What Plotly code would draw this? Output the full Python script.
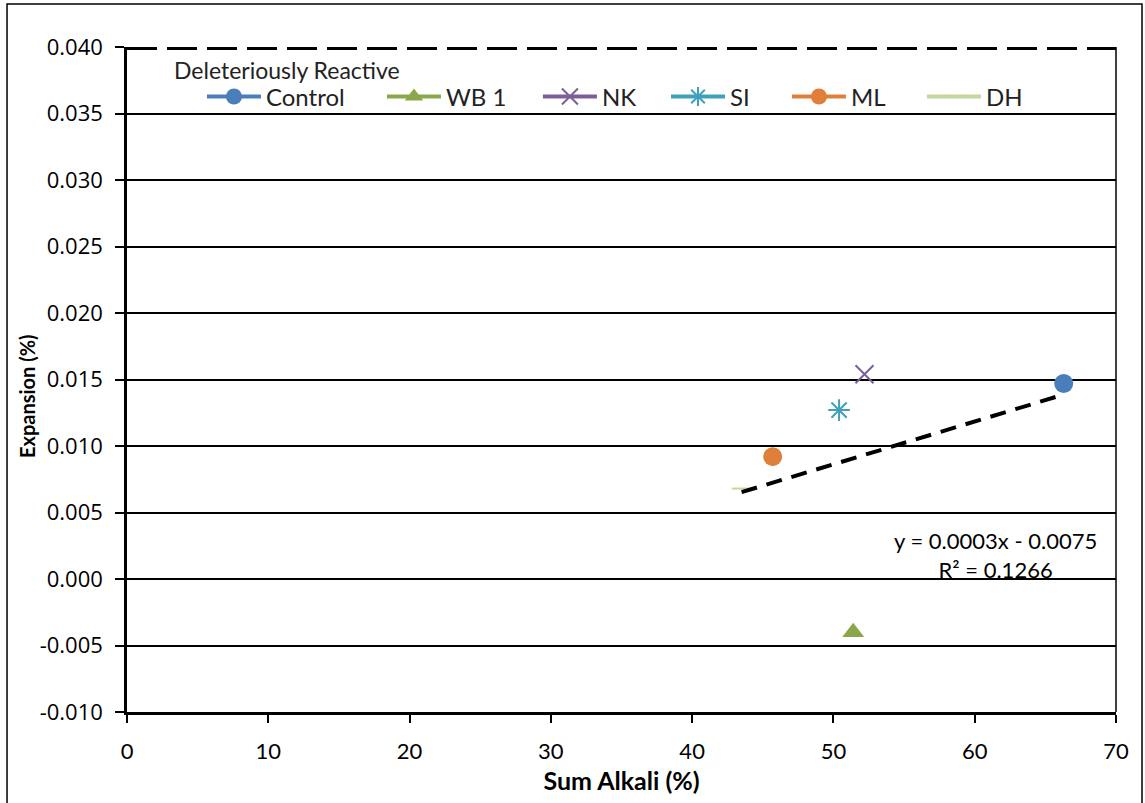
import numpy as np
import plotly.graph_objects as go

# ---- data ----
series_names = ["Control", "WB 1", "NK", "SI", "ML", "DH"]
sum_alkali = [66.3, 51.4, 52.2, 50.4, 45.7, 43.5]
expansion = [0.0147, -0.0040, 0.0154, 0.0127, 0.0092, 0.0068]
threshold_y = 0.040
threshold_label = "Deleteriously Reactive"
eq_label = "y = 0.0003x - 0.0075<br>R² = 0.1266"
x_title = "Sum Alkali (%)"
y_title = "Expansion (%)"
x_ticks = [0, 10, 20, 30, 40, 50, 60, 70]
y_ticks = [-0.010, -0.005, 0.000, 0.005, 0.010, 0.015, 0.020, 0.025, 0.030, 0.035, 0.040]
y_tick_labels = ["-0.010", "-0.005", "0.000", "0.005", "0.010", "0.015",
                 "0.020", "0.025", "0.030", "0.035", "0.040"]

colors = ["#4A7EBB", "#8AA84B", "#7A5F9A", "#3FA0BC", "#E07F3A", "#C3D69B"]
symbols = ["circle", "triangle-up", "x-thin-open", "asterisk-open", "circle", "line-ew-open"]
sizes = [19, 19, 18, 18, 19, 14]
# legend entry left positions (as fraction of plot width)
legend_x = [0.0758, 0.2578, 0.4155, 0.5450, 0.6673, 0.8038]

FONT = "Lato, Open Sans, sans-serif"

fig = go.Figure()

# threshold dashed line
fig.add_trace(go.Scatter(x=[0, 70], y=[threshold_y, threshold_y], mode="lines",
                         line=dict(color="black", width=6, dash="30px,10px"),
                         showlegend=False, hoverinfo="skip"))

legend_layouts = {}
for i, (name, x, y, c, s, sz, lx) in enumerate(zip(series_names, sum_alkali, expansion, colors,
                                                  symbols, sizes, legend_x)):
    lg = "legend" if i == 0 else f"legend{i + 1}"
    fig.add_trace(go.Scatter(
        x=[x], y=[y], name=name, mode="lines+markers", legend=lg,
        line=dict(color=c, width=4),
        marker=dict(color=c, symbol=s, size=sz, line=dict(color=c, width=2 if "open" in s else 0)),
    ))
    legend_layouts[lg] = dict(orientation="h", x=lx, y=0.925, xanchor="left", yanchor="middle",
                              font=dict(size=24, family=FONT, color="#222222"),
                              bgcolor="rgba(255,255,255,0)", itemwidth=54)

# linear trendline fitted from the data
coef = np.polyfit(sum_alkali, expansion, 1)
xs = np.array([min(sum_alkali), max(sum_alkali)])
fig.add_trace(go.Scatter(x=xs, y=np.polyval(coef, xs), mode="lines",
                         line=dict(color="black", width=4, dash="16px,10px"),
                         showlegend=False, hoverinfo="skip"))

fig.add_annotation(x=61.5, y=0.0018, text=eq_label, showarrow=False, align="center",
                   font=dict(family=FONT, size=22, color="black"))

# legend heading
fig.add_annotation(xref="paper", yref="paper", x=0.046, y=0.966, xanchor="left", yanchor="middle",
                   text=threshold_label, showarrow=False,
                   font=dict(family=FONT, size=23, color="#222222"))

# y axis title
fig.add_annotation(xref="paper", yref="paper", x=-0.1011, y=0.4752, xanchor="center", yanchor="middle",
                   text="<b>" + y_title + "</b>", textangle=-90, showarrow=False,
                   font=dict(family=FONT, size=20, color="black"))

# outer chart border
fig.add_shape(type="rect", xref="paper", yref="paper", x0=-0.1213, x1=1.0263, y0=-0.15, y1=1.0647,
              line=dict(color="black", width=1.5), fillcolor="rgba(0,0,0,0)", layer="below")

# right border of plot area
fig.add_shape(type="line", xref="paper", yref="paper", x0=1, x1=1, y0=0, y1=1,
              line=dict(color="black", width=1.5))

fig.update_layout(
    width=1145, height=803,
    margin=dict(l=127, r=29, t=47, b=91, autoexpand=False),
    paper_bgcolor="white", plot_bgcolor="white",
    font=dict(family=FONT, color="black"),
    showlegend=True,
    xaxis=dict(range=[0, 70], tickvals=x_ticks, ticks="outside", ticklen=8, tickcolor="black",
               tickwidth=1.5, ticklabelstandoff=10, automargin=False,
               showgrid=False, zeroline=False, showline=True, linecolor="black", linewidth=2.5,
               tickfont=dict(size=22, family=FONT),
               title=dict(text="<b>" + x_title + "</b>", standoff=10,
                          font=dict(size=25, family=FONT))),
    yaxis=dict(range=[-0.010, 0.040], tickvals=y_ticks, ticktext=y_tick_labels, ticks="outside",
               ticklen=9, tickcolor="black", tickwidth=1.5, ticklabelstandoff=8, automargin=False,
               showgrid=True, gridcolor="black", gridwidth=1.6, zeroline=False,
               showline=True, linecolor="black", linewidth=2.5,
               tickfont=dict(size=22, family="Open Sans, sans-serif")),
)
fig.update_layout(**legend_layouts)

fig.write_html("out.html", post_script="document.body.style.margin='0';",
               config={"displayModeBar": False})
